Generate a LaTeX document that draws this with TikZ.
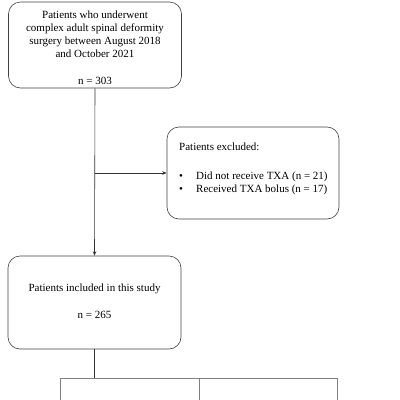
\documentclass[tikz,border=0pt]{standalone}
\usepackage{fontspec}
\setmainfont{Liberation Serif}
\usetikzlibrary{arrows.meta}
\tikzset{
  rbox/.style={draw=black!75, line width=0.6pt, rounded corners=12pt, inner sep=0pt},
  sbox/.style={draw=black!50, line width=0.8pt, inner sep=0pt},
  conn/.style={draw=black!80, line width=0.6pt},
  arr/.style={conn, -{Stealth[length=4.5pt,width=3.5pt]}},
  txt/.style={font=\fontsize{11pt}{13.3pt}\selectfont, inner sep=0pt}
}
\begin{document}
\begin{tikzpicture}[x=1pt,y=-1pt]
\useasboundingbox (0,0) rectangle (400,400);
\begin{scope}
\clip (0,0) rectangle (400,400);
\node[rbox, minimum width=173pt, minimum height=86pt] (top) at (95,45) {};
\node[txt, align=center] (toptext) at (95,47.5) {Patients who underwent\\complex adult spinal deformity\\surgery between August 2018\\and October 2021\\[13.3pt]n = 303};
\node[rbox, minimum width=172pt, minimum height=92pt] (exc) at (253,173) {};
\node[txt, align=left, anchor=west] (exctext) at (179,169) {Patients excluded:\\[15.5pt]\makebox[17pt][l]{\textbullet}Did not receive TXA (n = 21)\\\makebox[17pt][l]{\textbullet}Received TXA bolus (n = 17)};
\node[rbox, minimum width=173pt, minimum height=93pt] (inc) at (94.5,302.5) {};
\node[txt, align=center] (inctext) at (94.5,301) {Patients included in this study\\[13.3pt]n = 265};
\node[sbox, minimum width=139pt, minimum height=60pt, anchor=north west] (bl) at (60,378) {};
\node[sbox, minimum width=138pt, minimum height=60pt, anchor=north west] (br) at (199,378) {};
\coordinate (split) at (top.south |- exc.west);
\draw[arr] (top.south) -- (inc.north);
\draw[arr] (split) -- (exc.west);
\draw[conn] (inc.south) -- (inc.south |- bl.north);
\end{scope}
\end{tikzpicture}
\end{document}
